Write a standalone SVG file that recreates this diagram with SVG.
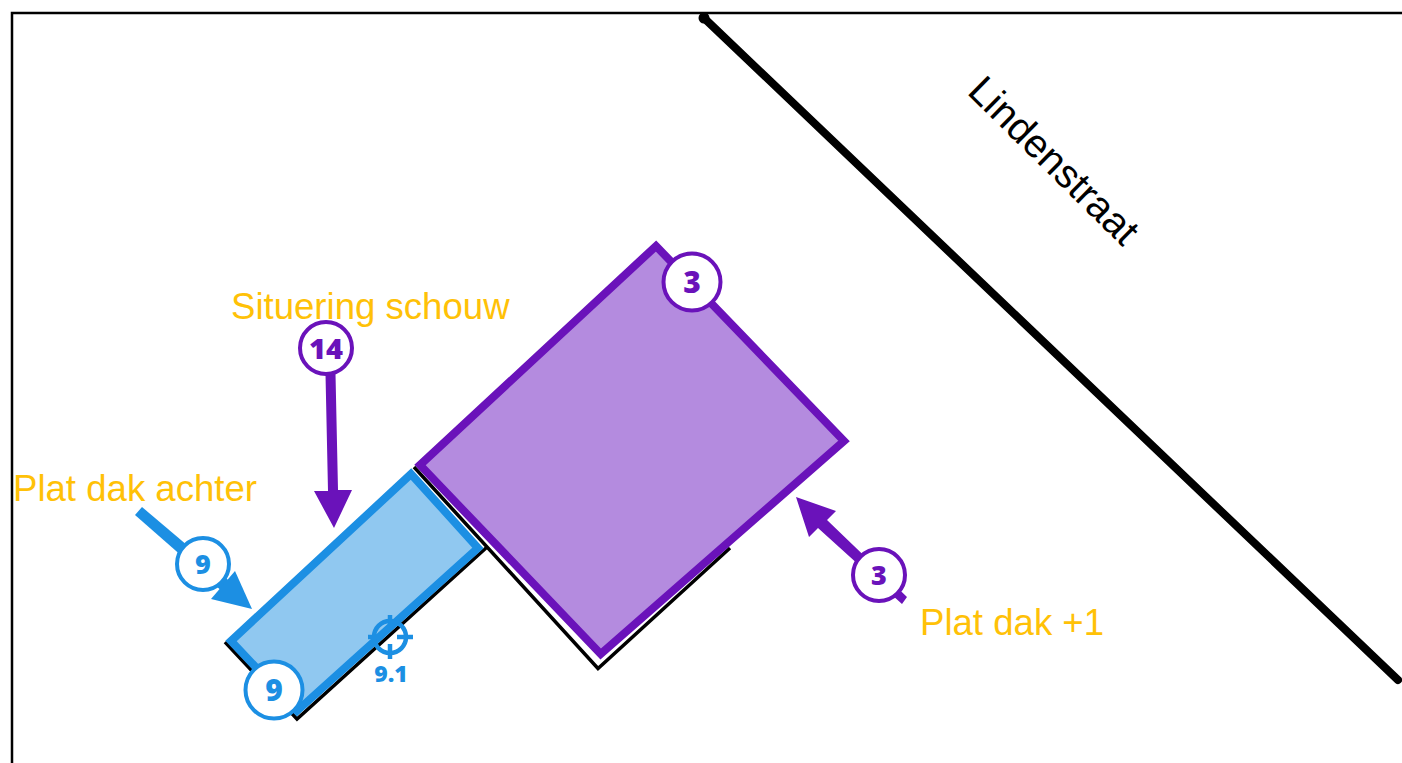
<svg xmlns="http://www.w3.org/2000/svg" width="1402" height="763" viewBox="0 0 1402 763">
<style>
.lbl{font-family:"Liberation Sans",Arial,sans-serif;font-size:36.6px;fill:#FFC107}
.num{font-family:"Open Sans",sans-serif;font-weight:800;text-anchor:middle}
.p{fill:#6A12BA}.b{fill:#1C8FE3}
.cp{fill:#fff;stroke:#6A12BA;stroke-width:4}
.cb{fill:#fff;stroke:#1C8FE3;stroke-width:4}
</style>
<rect width="1402" height="763" fill="#fff"/>
<g id="frame"><path d="M12 763V13H1402" fill="none" stroke="#000" stroke-width="2.500"/></g>
<g id="street"><path d="M704 18L1398 680" fill="none" stroke="#000" stroke-width="8" stroke-linecap="round"/>
<circle cx="704" cy="18" r="5.500"/>
<text class="lbl" style="fill:#000;font-size:40px" transform="translate(966 93) rotate(44.500)">Lindenstraat</text></g>
<g id="outline"><path d="M414 467L598 668.500L730 548M225 642L297 719L486 548" fill="none" stroke="#000" stroke-width="3.500"/></g>
<g id="roof-3"><path d="M656 246L844 441L600.700 654L420 465Z" fill="#B48BDF" stroke="#6A12BA" stroke-width="8"/>
<circle class="cp" cx="692" cy="282" r="28.500"/><text class="num p" x="692" y="293" font-size="30">3</text></g>
<g id="roof-9"><path d="M411 474L478 548L297 711L231 641Z" fill="#90C8F0" stroke="#1C8FE3" stroke-width="8"/>
<circle class="cb" cx="274" cy="690" r="28.500"/><text class="num b" x="274" y="701" font-size="30">9</text></g>
<g id="connectors">
<path class="p" d="M325.500 374H335.500L338 490H352L334 528L314 491H328Z"/>
<path class="p" d="M907 597L902 604L818 528L809 537L796 497L836 511L827 520Z"/>
<path class="b" d="M142 507L240 590L232 600L135 515Z"/>
<path class="b" d="M235 571L252 609L211 599Z"/>
</g>
<g id="marker-14"><circle class="cp" cx="326" cy="348" r="26"/><text class="num p" x="326" y="359" font-size="29">14</text></g>
<g id="marker-9"><circle class="cb" cx="203" cy="564" r="26"/><text class="num b" x="203" y="574" font-size="27">9</text></g>
<g id="marker-3"><circle class="cp" cx="879" cy="575" r="26"/><text class="num p" x="879" y="585" font-size="27">3</text></g>
<g id="target-9-1"><circle cx="390" cy="637" r="16" fill="none" stroke="#1C8FE3" stroke-width="4.500"/>
<path d="M390 615V630M390 644V659M368 637H383M397 637H413" stroke="#1C8FE3" stroke-width="4.500"/>
<text class="num b" x="391" y="682" font-size="23">9.1</text></g>
<g id="labels">
<text class="lbl" x="231" y="319">Situering schouw</text>
<text class="lbl" x="13" y="501">Plat dak achter</text>
<text class="lbl" x="920" y="635">Plat dak +1</text>
</g>
</svg>
